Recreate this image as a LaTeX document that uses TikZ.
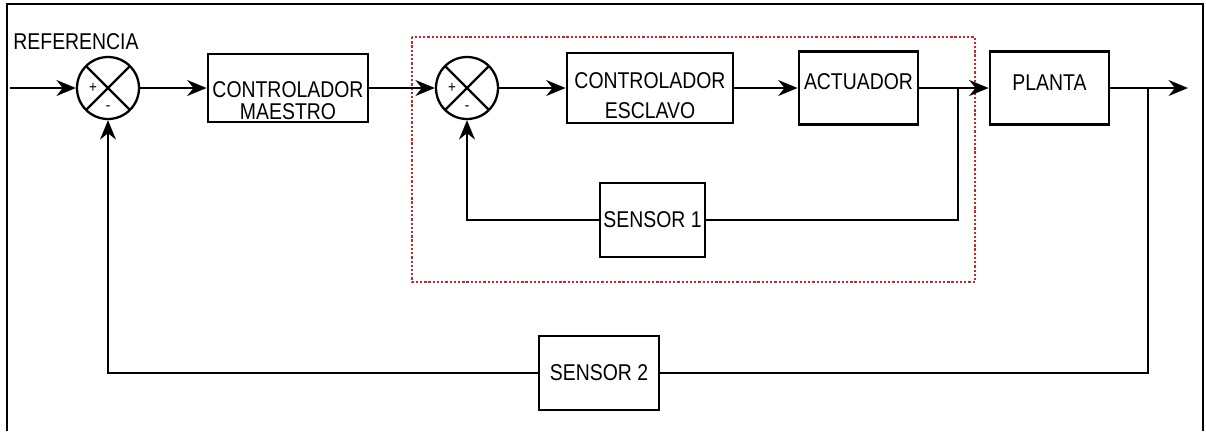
\documentclass[tikz,border=0pt]{standalone}
\usepackage{fontspec}
\setmainfont{Liberation Sans}[FakeStretch=0.85]
\usetikzlibrary{arrows.meta}
\definecolor{loopred}{HTML}{C42828}

\begin{document}
\begin{tikzpicture}[
  font=\fontsize{13}{12.6}\selectfont,
  blk/.style={draw, rectangle, line width=1.6pt, inner sep=0pt},
  sumnode/.style={draw, circle, line width=1.3pt, minimum size=1.24cm, inner sep=0pt,
    path picture={\draw[line width=1.3pt]
      (path picture bounding box.north west) -- (path picture bounding box.south east)
      (path picture bounding box.north east) -- (path picture bounding box.south west);},
    label={[xshift=-0.3cm, font=\fontsize{9}{9}\selectfont]center:+},
    label={[yshift=-0.4cm, font=\fontsize{9}{9}\selectfont]center:-}},
  wire/.style={line width=1.6pt},
  sig/.style={wire, -{Stealth[length=11pt, width=9pt]}},
  loopbox/.style={loopred, line width=1.3pt, dash pattern=on 1.3pt off 1.1pt}
]
  \useasboundingbox (0,0) rectangle (24.12,-8.62);
  % frame, open at the bottom
  \draw[line width=0.9pt] (0.14,-8.62) -- (0.14,-0.08) -- (24.06,-0.08) -- (24.06,-8.62);
  % inner loop region
  \draw[loopbox] (8.24,-0.74) rectangle (19.5,-5.64);

  % forward path blocks
  \coordinate (in) at (0.2,-1.76);
  \node (ref) at (1.52,-0.83) {REFERENCIA};
  \node[sumnode] (s1) at (2.16,-1.76) {};
  \node[blk, minimum width=3.2cm, minimum height=1.36cm,
        label={[align=center, yshift=-0.25cm]center:{CONTROLADOR\\MAESTRO}}] (cm) at (5.76,-1.76) {};
  \node[sumnode] (s2) at (9.34,-1.76) {};
  \node[blk, minimum width=3.32cm, minimum height=1.4cm,
        label={[align=center, yshift=-0.16cm]center:{CONTROLADOR\\[0.16cm]ESCLAVO}}] (ce) at (13.0,-1.76) {};
  \node[blk, minimum width=2.38cm, minimum height=1.46cm,
        label={[yshift=0.12cm]center:ACTUADOR}] (act) at (17.17,-1.76) {};
  \node[blk, minimum width=2.38cm, minimum height=1.46cm,
        label={[yshift=0.1cm]center:PLANTA}] (pl) at (20.99,-1.76) {};
  \coordinate (out) at (23.76,-1.76);

  % feedback blocks
  \coordinate (b1) at (19.16,-1.76);
  \coordinate (b2) at (22.96,-1.76);
  \node[blk, minimum width=2.1cm, minimum height=1.48cm] (sen1) at (13.05,-4.4) {SENSOR 1};
  \node[blk, minimum width=2.4cm, minimum height=1.48cm] (sen2) at (11.98,-7.46) {SENSOR 2};

  % forward path
  \draw[sig] (in) -- (s1);
  \draw[sig] (s1) -- (cm);
  \draw[sig] (cm) -- (s2);
  \draw[sig] (s2) -- (ce);
  \draw[sig] (ce) -- (act);
  \draw[sig] (act) -- (pl);
  \draw[sig] (pl) -- (out);
  % feedback loops
  \draw[wire] (b1) |- (sen1);
  \draw[sig] (sen1) -| (s2);
  \draw[wire] (b2) |- (sen2);
  \draw[sig] (sen2) -| (s1);
\end{tikzpicture}
\end{document}
